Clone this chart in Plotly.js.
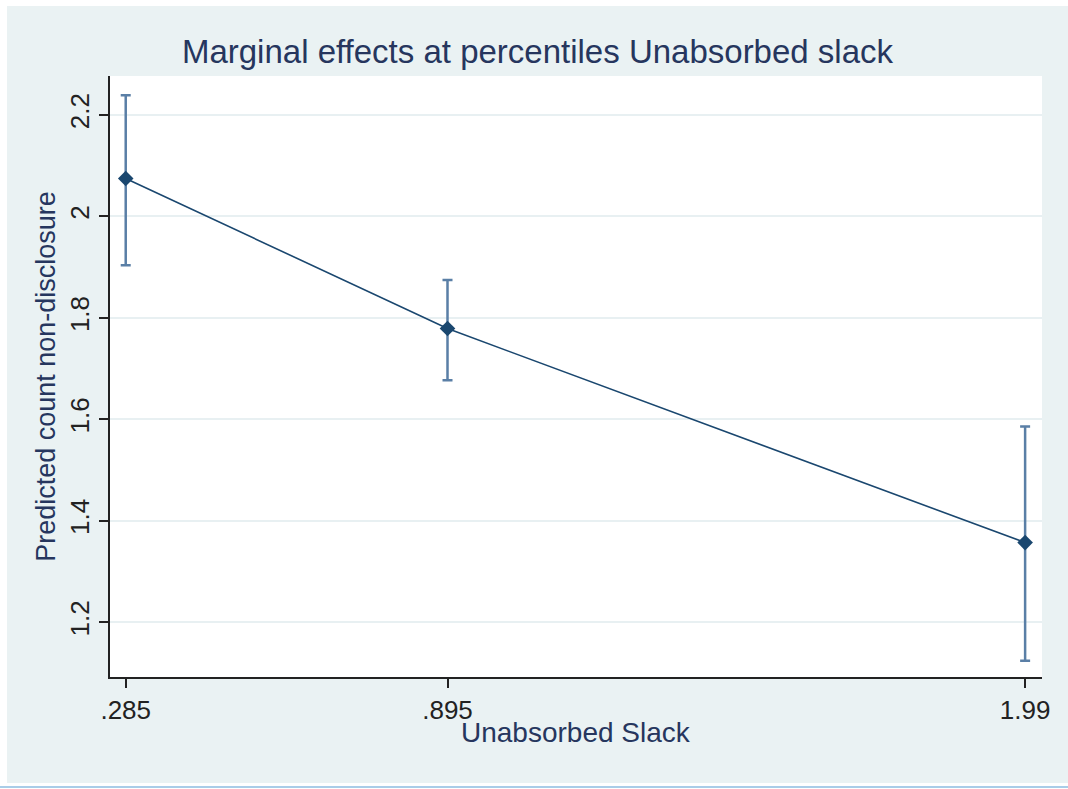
<!DOCTYPE html>
<html>
<head>
<meta charset="utf-8">
<script src="https://cdn.plot.ly/plotly-3.0.1.min.js"></script>
<style>
  html, body { margin: 0; padding: 0; background: #ffffff; width: 1068px; height: 789px; overflow: hidden; }
  #chart { position: absolute; left: 7px; top: 6px; width: 1061px; height: 777px; }
  #bottomline { position: absolute; left: 0; top: 786px; width: 1068px; height: 2px; background: #a9cde8; }
</style>
</head>
<body>
<div id="chart"></div>
<div id="bottomline"></div>
<script>
// Data
const slackPercentiles = [0.285, 0.895, 1.99];
const xTickLabels = [".285", ".895", "1.99"];
const predictedCount = [2.075, 1.779, 1.357];
const ciUpper = [2.239, 1.875, 1.586];
const ciLower = [1.904, 1.677, 1.124];
const yTickValues = [1.2, 1.4, 1.6, 1.8, 2.0, 2.2];
const yTickLabels = ["1.2", "1.4", "1.6", "1.8", "2", "2.2"];

const errPlus = ciUpper.map((u, i) => u - predictedCount[i]);
const errMinus = ciLower.map((l, i) => predictedCount[i] - l);

const navy = "#1a476f";
const fontFam = "'Liberation Sans', Arial, Helvetica, sans-serif";
const titleColor = "#26365e";

const trace = {
  type: "scatter",
  mode: "lines+markers",
  x: slackPercentiles,
  y: predictedCount,
  line: { color: navy, width: 1.6 },
  marker: { symbol: "diamond", size: 12, color: navy },
  error_y: {
    type: "data",
    symmetric: false,
    array: errPlus,
    arrayminus: errMinus,
    color: "#5a7fa6",
    thickness: 2.5,
    width: 5
  },
  hoverinfo: "skip"
};

const layout = {
  width: 1061,
  height: 777,
  paper_bgcolor: "#eaf2f3",
  plot_bgcolor: "#ffffff",
  margin: { l: 103, r: 26, t: 70, b: 106 },
  showlegend: false,
  font: { family: fontFam, color: "#222222" },
  title: {
    text: "Marginal effects at percentiles Unabsorbed slack",
    font: { family: fontFam, size: 33, color: titleColor },
    x: 0.5, xanchor: "center",
    xref: "container",
    y: 0.941, yanchor: "middle", yref: "container"
  },
  annotations: [{
    text: "Unabsorbed Slack",
    xref: "paper", yref: "paper",
    x: 0.5, xanchor: "center",
    y: -0.093, yanchor: "middle",
    showarrow: false,
    font: { family: fontFam, size: 28, color: titleColor }
  }],
  xaxis: {
    range: [0.2552, 2.022],
    tickmode: "array",
    tickvals: slackPercentiles,
    ticktext: xTickLabels,
    ticks: "outside",
    ticklen: 9,
    tickwidth: 2,
    tickcolor: "#222222",
    showgrid: false,
    zeroline: false,
    showline: true,
    linecolor: "#222222",
    linewidth: 2,
    tickfont: { family: fontFam, size: 26, color: "#222222" },
    automargin: false
  },
  yaxis: {
    range: [1.092, 2.277],
    tickmode: "array",
    tickvals: yTickValues,
    ticktext: yTickLabels,
    tickangle: -90,
    ticks: "outside",
    ticklen: 9,
    tickwidth: 2,
    tickcolor: "#222222",
    showgrid: true,
    gridcolor: "#e8f0f2",
    gridwidth: 2,
    zeroline: false,
    showline: true,
    linecolor: "#222222",
    linewidth: 2,
    tickfont: { family: fontFam, size: 26, color: "#222222" },
    title: {
      text: "Predicted count non-disclosure",
      font: { family: fontFam, size: 27, color: titleColor },
      standoff: 1
    },
    automargin: false
  }
};

Plotly.newPlot("chart", [trace], layout, { displayModeBar: false, staticPlot: true });
</script>
</body>
</html>
